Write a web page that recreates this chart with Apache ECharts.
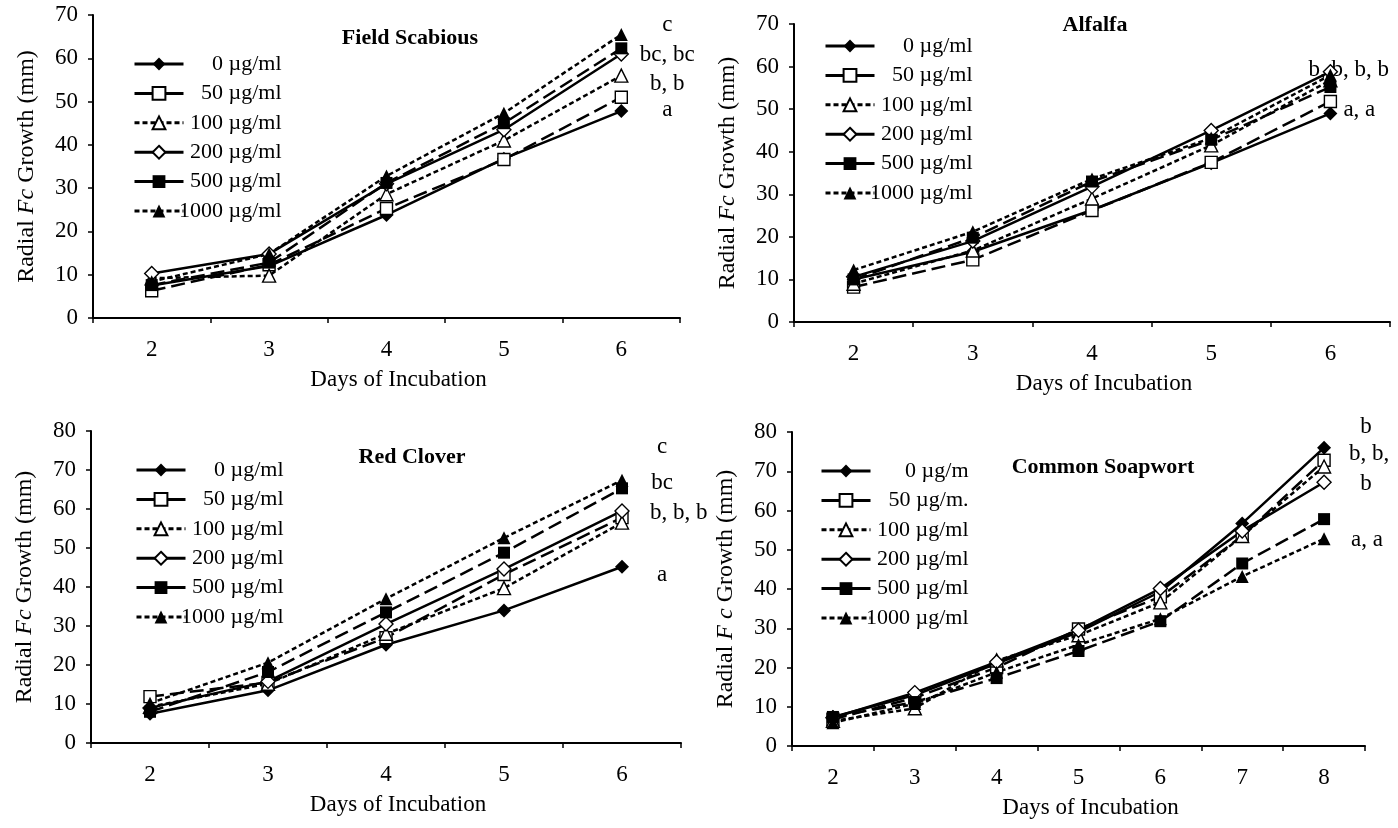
<!DOCTYPE html>
<html>
<head>
<meta charset="utf-8">
<title>Radial Fc growth</title>
<script src="https://cdn.jsdelivr.net/npm/echarts@6/dist/echarts.min.js"></script>
<style>
  html, body { margin: 0; padding: 0; background: #fff; }
  #main { width: 1398px; height: 828px; }
</style>
</head>
<body>
<div id="main"></div>
<script>
// categories
var days5 = ['2', '3', '4', '5', '6'];
var days7 = ['2', '3', '4', '5', '6', '7', '8'];
var doseNames = ['0 µg/ml', '50 µg/ml', '100 µg/ml', '200 µg/ml', '500 µg/ml', '1000 µg/ml'];
var soapDoseNames = ['0 µg/m', '50 µg/m.', '100 µg/ml', '200 µg/ml', '500 µg/ml', '1000 µg/ml'];

// Field Scabious
var fs0 = [7.5, 12.0, 23.8, 36.8, 47.8];
var fs50 = [6.3, 12.3, 25.3, 36.6, 51.0];
var fs100 = [9.2, 9.8, 28.6, 41.0, 56.0];
var fs200 = [10.3, 14.8, 31.0, 43.5, 61.0];
var fs500 = [7.6, 12.8, 31.2, 45.0, 62.3];
var fs1000 = [8.4, 14.8, 32.8, 47.3, 65.5];

// Alfalfa
var al0 = [10.0, 16.5, 26.3, 37.3, 49.0];
var al50 = [8.2, 14.6, 26.2, 37.5, 51.8];
var al100 = [9.0, 16.8, 29.0, 41.5, 56.8];
var al200 = [10.6, 19.0, 31.8, 45.0, 58.8];
var al500 = [10.0, 19.8, 33.0, 42.8, 55.2];
var al1000 = [12.2, 21.2, 33.6, 43.2, 58.0];

// Red Clover
var rc0 = [7.5, 13.5, 25.2, 34.0, 45.2];
var rc50 = [11.9, 15.5, 27.0, 43.2, 57.8];
var rc100 = [9.3, 15.2, 28.0, 39.7, 56.5];
var rc200 = [9.0, 15.8, 30.5, 44.6, 59.5];
var rc500 = [8.0, 18.2, 33.5, 48.8, 65.3];
var rc1000 = [10.2, 20.6, 37.0, 52.6, 67.4];

// Common Soapwort
var cs0 = [7.4, 13.0, 21.0, 29.0, 39.3, 56.7, 76.0];
var cs50 = [6.8, 12.3, 20.0, 29.8, 38.0, 53.5, 72.8];
var cs100 = [6.4, 9.6, 21.8, 28.2, 36.6, 53.5, 71.2];
var cs200 = [7.2, 13.6, 21.4, 29.5, 40.1, 54.8, 67.2];
var cs500 = [7.4, 11.2, 17.3, 24.2, 31.8, 46.5, 57.8];
var cs1000 = [5.9, 10.8, 18.8, 25.8, 32.4, 43.2, 52.8];

// significance letters, placed at a value on the y axis
var fsNoteText = ['c', 'bc, bc', 'b, b', 'a'];
var fsNoteAt = [67.7, 60.7, 54, 48];
var alNoteText = ['b, b, b, b', 'a, a'];
var alNoteAt = [59.2, 49.8];
var rcNoteText = ['c', 'bc', 'b, b, b', 'a'];
var rcNoteAt = [75.9, 66.7, 59, 43];
var csNoteText = ['b', 'b, b,', 'b', 'a, a'];
var csNoteAt = [81.4, 74.5, 66.8, 52.5];

var FONT = 'Liberation Serif';
var symbols = ['diamond', 'rect', 'triangle', 'diamond', 'rect', 'triangle'];
var symbolSizes = [14, 12, 13, 14, 12, 13];
var hollow = [false, true, true, true, false, false];
var dashes = ['solid', [14, 6], [5, 3], 'solid', [14, 6], [5, 3]];

function makeSeries(names, values, gi) {
    return values.map(function (v, i) {
        return {
            name: names[i],
            type: 'line',
            xAxisIndex: gi,
            yAxisIndex: gi,
            data: v,
            symbol: symbols[i],
            symbolSize: symbolSizes[i],
            showAllSymbol: true,
            lineStyle: { color: '#000', width: 2.5, type: dashes[i] },
            itemStyle: {
                color: hollow[i] ? '#fff' : '#000',
                borderColor: '#000',
                borderWidth: hollow[i] ? 1.4 : 0
            },
            emphasis: { disabled: true },
            animation: false
        };
    });
}

function makeLegend(names, left, top) {
    return {
        orient: 'vertical',
        left: left,
        top: top,
        itemWidth: 49,
        itemHeight: 16,
        itemGap: 7.4,
        selectedMode: false,
        lineStyle: { width: 3 },
        data: names.map(function (n, i) {
            var d = { name: n };
            if (dashes[i][0] === 14) d.lineStyle = { type: 'solid', width: 3 };
            return d;
        }),
        formatter: function (name) { return '{t|' + name + '}'; },
        textStyle: {
            rich: {
                t: { width: 93, align: 'right', fontFamily: FONT, fontSize: 22, lineHeight: 20, color: '#000' }
            }
        }
    };
}

var grids = [
    { left: 93, top: 15, width: 587, height: 303 },
    { left: 794, top: 24, width: 596, height: 298 },
    { left: 91, top: 431, width: 590, height: 312 },
    { left: 792, top: 432, width: 573, height: 314 }
];
grids.forEach(function (g) { g.outerBoundsMode = 'none'; g.containLabel = false; });

function xAxisFor(gi, cats) {
    return {
        type: 'category',
        gridIndex: gi,
        data: cats,
        boundaryGap: true,
        axisLine: { lineStyle: { color: '#000', width: 2 } },
        axisTick: { show: true, length: 5, interval: 0, lineStyle: { color: '#000', width: 1.5 } },
        axisLabel: { color: '#000', fontFamily: FONT, fontSize: 23, margin: 20, interval: 0 },
        splitLine: { show: false },
        name: 'Days of Incubation',
        nameLocation: 'middle',
        nameGap: 50,
        nameTextStyle: { color: '#000', fontFamily: FONT, fontSize: 23, padding: [0, 0, 0, 24] }
    };
}

function yAxisFor(gi, max, nameText) {
    return {
        type: 'value',
        gridIndex: gi,
        min: 0,
        max: max,
        interval: 10,
        axisLine: { show: true, lineStyle: { color: '#000', width: 2 } },
        axisTick: { show: true, length: 5, lineStyle: { color: '#000', width: 1.5 } },
        axisLabel: { color: '#000', fontFamily: FONT, fontSize: 23, margin: 15 },
        splitLine: { show: false },
        name: nameText,
        nameLocation: 'middle',
        nameRotate: 90,
        nameGap: 54,
        nameTextStyle: {
            rich: {
                n: { fontFamily: FONT, fontSize: 24, color: '#000' },
                i: { fontFamily: FONT, fontSize: 24, fontStyle: 'italic', color: '#000' }
            }
        }
    };
}

var yName = '{n|Radial }{i|Fc}{n| Growth (mm)}';
var yNameSoap = '{n|Radial }{i|F c}{n| Growth (mm)}';

var series = []
    .concat(makeSeries(doseNames, [fs0, fs50, fs100, fs200, fs500, fs1000], 0))
    .concat(makeSeries(doseNames, [al0, al50, al100, al200, al500, al1000], 1))
    .concat(makeSeries(doseNames, [rc0, rc50, rc100, rc200, rc500, rc1000], 2))
    .concat(makeSeries(soapDoseNames, [cs0, cs50, cs100, cs200, cs500, cs1000], 3));

var titleStyle = { fill: '#000', fontFamily: FONT, fontSize: 22, fontWeight: 'bold', textAlign: 'center', textVerticalAlign: 'middle' };
function titleText(txt, x, y) {
    return { type: 'text', x: x, y: y, style: Object.assign({ text: txt }, titleStyle) };
}
var titles = [
    titleText('Field Scabious', 410, 38),
    titleText('Alfalfa', 1095, 25),
    titleText('Red Clover', 412, 457),
    titleText('Common Soapwort', 1103, 467)
];

var chart = echarts.init(document.getElementById('main'));
chart.setOption({
    backgroundColor: '#fff',
    animation: false,
    grid: grids,
    xAxis: [xAxisFor(0, days5), xAxisFor(1, days5), xAxisFor(2, days5), xAxisFor(3, days7)],
    yAxis: [yAxisFor(0, 70, yName), yAxisFor(1, 70, yName), yAxisFor(2, 80, yName), yAxisFor(3, 80, yNameSoap)],
    legend: [
        makeLegend(doseNames, 128, 48),
        makeLegend(doseNames, 819, 30),
        makeLegend(doseNames, 130, 454),
        makeLegend(soapDoseNames, 815, 455)
    ],
    series: series,
    graphic: titles
});

// letters next to the last day, positioned through the axes
function notes(gi, lastCat, texts, at, dx, align) {
    return texts.map(function (t, i) {
        var p = chart.convertToPixel({ xAxisIndex: gi, yAxisIndex: gi }, [lastCat, at[i]]);
        return {
            type: 'text',
            x: p[0] + dx[i],
            y: p[1],
            style: { text: t, fill: '#000', fontFamily: FONT, fontSize: 23, textAlign: align[i], textVerticalAlign: 'middle' }
        };
    });
}

var noteEls = []
    .concat(notes(0, 4, fsNoteText, fsNoteAt, [46, 46, 46, 46], ['center', 'center', 'center', 'center']))
    .concat(notes(1, 4, alNoteText, alNoteAt, [-22, 13], ['left', 'left']))
    .concat(notes(2, 4, rcNoteText, rcNoteAt, [40, 40, 28, 40], ['center', 'center', 'left', 'center']))
    .concat(notes(3, 6, csNoteText, csNoteAt, [42, 25, 42, 27], ['center', 'left', 'center', 'left']));

chart.setOption({ graphic: titles.concat(noteEls) });
</script>
</body>
</html>
